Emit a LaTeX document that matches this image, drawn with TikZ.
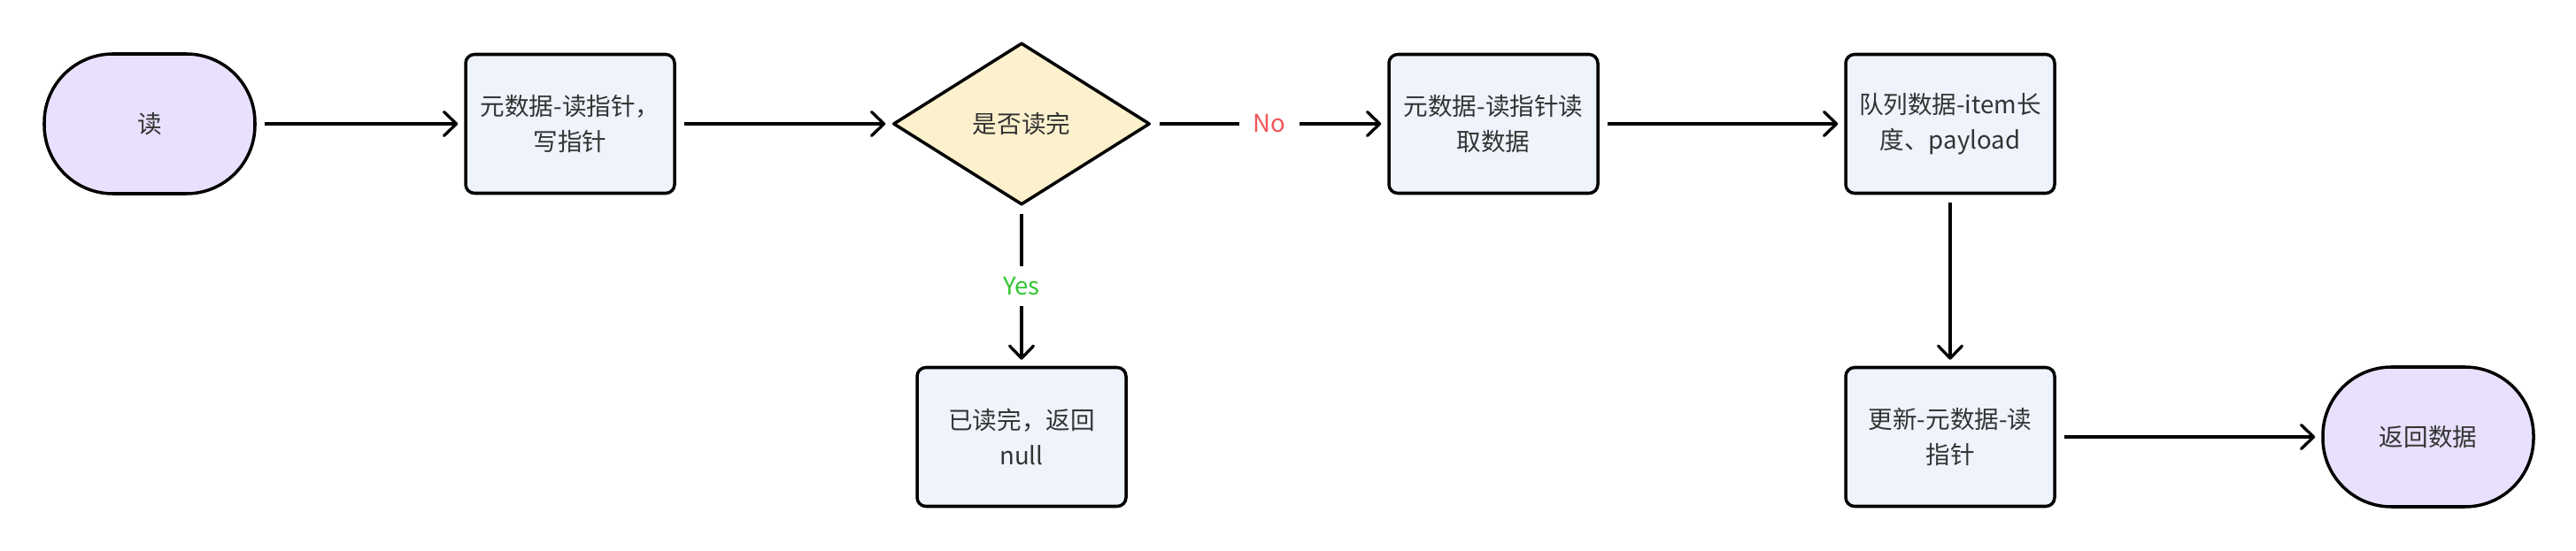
\documentclass[tikz,border=0pt]{standalone}
\usepackage{fontspec}
\setmainfont{Noto Sans CJK SC}
\usetikzlibrary{shapes.geometric,arrows.meta}

\definecolor{termfill}{HTML}{E8E0FD}
\definecolor{stepfill}{HTML}{EEF3FC}
\definecolor{askfill}{HTML}{FCF0CD}
\definecolor{textgray}{HTML}{333333}
\definecolor{nored}{HTML}{F25555}
\definecolor{yesgreen}{HTML}{33C733}

\tikzset{
    terminal/.style={draw, line width=2pt, fill=termfill, rounded corners=1.55cm,
        minimum width=4.76cm, minimum height=3.16cm, align=center},
    stepbox/.style={draw, line width=2pt, fill=stepfill, rounded corners=0.2cm,
        minimum width=4.72cm, minimum height=3.14cm, align=center},
    askbox/.style={draw, diamond, line width=2pt, line join=round, fill=askfill,
        minimum width=5.8cm, minimum height=3.66cm, inner sep=0pt, align=center},
    flow/.style={line width=1.9pt, -{Straight Barb[length=0.28cm, width=0.54cm, round]},
        shorten <=0.18cm, shorten >=0.14cm},
    branch/.style={fill=white, inner xsep=0.32cm, inner ysep=0.25cm}
}

\begin{document}
\begin{tikzpicture}[every node/.append style={font=\fontsize{15.7pt}{22.8pt}\selectfont, text=textgray}]
        \useasboundingbox (0, 0) rectangle (58.2, 12.44);

        % top row
        \node[terminal] (read) at (3.38, 9.64) {读};
        \node[stepbox] (pointers) at (12.88, 9.64) {元数据-读指针，\\写指针};
        \node[askbox] (done) at (23.08, 9.64) {是否读完};
        \node[stepbox] (fetch) at (33.74, 9.64) {元数据-读指针读\\取数据};
        \node[stepbox] (item) at (44.06, 9.64) {队列数据-item长\\度、payload};

        % bottom row
        \node[stepbox] (empty) at (23.08, 2.56) {已读完，返回\\null};
        \node[stepbox] (update) at (44.06, 2.56) {更新-元数据-读\\指针};
        \node[terminal] (result) at (54.86, 2.56) {返回数据};

        \draw[flow] (read) -- (pointers);
        \draw[flow] (pointers) -- (done);
        \draw[flow] (done) -- node[branch, text=nored]{No} (fetch);
        \draw[flow] (done) -- node[branch, text=yesgreen]{Yes} (empty);
        \draw[flow] (fetch) -- (item);
        \draw[flow] (item) -- (update);
        \draw[flow] (update) -- (result);
    \end{tikzpicture}
\end{document}
